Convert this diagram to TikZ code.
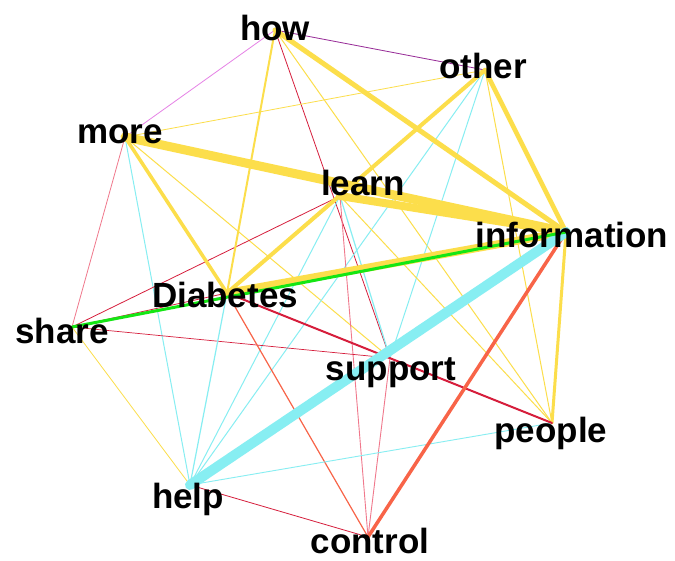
\documentclass[tikz,border=0pt]{standalone}
\usepackage{fontspec}
\setmainfont{Liberation Sans}
\begin{document}
\begin{tikzpicture}[x=1pt,y=-1pt,
  lbl/.style={font=\bfseries\fontsize{35}{35}\selectfont,inner sep=0pt,anchor=base,text=black},
  yel/.style={draw={rgb,255:red,252;green,222;blue,75},line width=#1},
  cya/.style={draw={rgb,255:red,135;green,238;blue,242},line width=#1},
  grn/.style={draw={rgb,255:red,20;green,230;blue,20},line width=#1},
  crm/.style={draw={rgb,255:red,214;green,30;blue,60},line width=#1},
  tom/.style={draw={rgb,255:red,248;green,100;blue,72},line width=#1},
  pnk/.style={draw={rgb,255:red,240;green,120;blue,140},line width=#1},
  vio/.style={draw={rgb,255:red,230;green,130;blue,230},line width=#1},
  pur/.style={draw={rgb,255:red,150;green,40;blue,150},line width=#1},
  line cap=round]
\useasboundingbox (0,0) rectangle (675,560);
\fill[white] (0,0) rectangle (675,560);
% node points
\coordinate (how) at (275,30);
\coordinate (other) at (485,70);
\coordinate (more) at (125,137);
\coordinate (learn) at (340,196);
\coordinate (info) at (566,232);
\coordinate (diab) at (227,293);
\coordinate (share) at (72,327);
\coordinate (supp) at (390,358);
\coordinate (people) at (552,423);
\coordinate (help) at (190,485);
\coordinate (ctrl) at (368,537);
% thin edges
\draw[vio=0.8] (how) -- (more);
\draw[pur=0.8] (how) -- (other);
\draw[crm=0.8] (how) -- (supp);
\draw[yel=1] (how) -- (people);
\draw[yel=0.8] (more) -- (other);
\draw[yel=1] (more) -- (supp);
\draw[pnk=0.8] (more) -- (share);
\draw[cya=1] (more) -- (help);
\draw[yel=1] (other) -- (people);
\draw[cya=1] (other) -- (help);
\draw[cya=1] (other) -- (supp);
\draw[yel=1] (learn) -- (people);
\draw[crm=0.8] (learn) -- (share);
\draw[cya=1.2] (learn) -- (supp);
\draw[cya=1] (learn) -- (help);
\draw[pnk=0.9] (learn) -- (ctrl);
\draw[crm=0.8] (share) -- (diab);
\draw[crm=0.7] (share) -- (supp);
\draw[yel=0.8] (share) -- (help);
\draw[cya=1.2] (diab) -- (help);
\draw[tom=1.2] (diab) -- (ctrl);
\draw[pnk=0.9] (supp) -- (ctrl);
\draw[cya=0.9] (people) -- (help);
\draw[crm=0.8] (help) -- (ctrl);
% medium edges
\draw[yel=2] (how) -- (diab);
\draw[yel=3.5] (more) -- (diab);
\draw[yel=2.5] (learn) -- (diab);
\draw[yel=4] (other) -- (diab);
\draw[yel=4.5] (other) -- (info);
\draw[yel=5] (how) -- (info);
\draw[yel=3] (info) -- (people);
\draw[crm=2] (diab) -- (people);
\draw[tom=3.5] (info) -- (ctrl);
% thick edges
\draw[yel=9] (more) -- (info);
\draw[yel=8] (learn) -- (info);
\draw[yel=8] (diab) -- (info);
\draw[cya=10] (help) -- (info);
\draw[grn=3] (share) -- (info);
% labels
\node[lbl] (how-l) at (275,40) {how};
\node[lbl] (other-l) at (483,78) {other};
\node[lbl] (more-l) at (120,143) {more};
\node[lbl] (learn-l) at (363,195) {learn};
\node[lbl] (info-l) at (572,247) {information};
\node[lbl] (diab-l) at (225,307) {Diabetes};
\node[lbl] (share-l) at (62,343) {share};
\node[lbl] (supp-l) at (391,380) {support};
\node[lbl] (people-l) at (551,442) {people};
\node[lbl] (help-l) at (188,508) {help};
\node[lbl] (ctrl-l) at (370,553) {control};
\end{tikzpicture}
\end{document}
